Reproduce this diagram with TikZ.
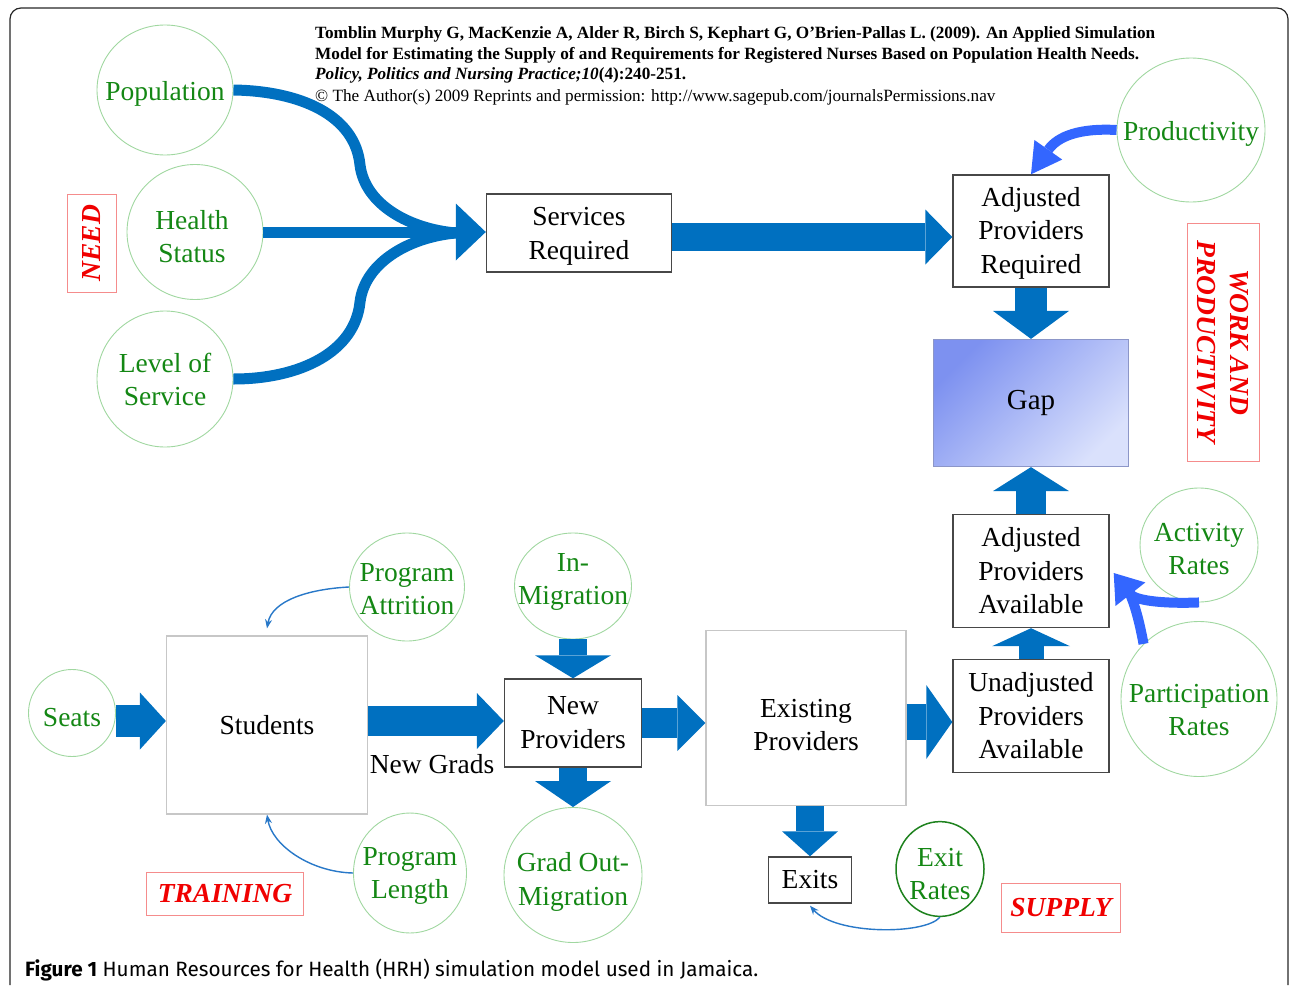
\documentclass[tikz,border=0pt]{standalone}
\usepackage{fontspec}
\setmainfont{Liberation Serif}
\newfontfamily\capfont{Fira Sans}
\usetikzlibrary{shapes.geometric,arrows.meta,calc}
\definecolor{ablue}{RGB}{0,112,192}
\definecolor{bblue}{RGB}{51,102,255}
\definecolor{tblue}{RGB}{40,120,200}
\definecolor{tgreen}{RGB}{20,135,20}
\definecolor{lgreen}{RGB}{160,215,160}
\definecolor{dgreen}{RGB}{30,130,30}
\definecolor{tred}{RGB}{240,0,0}
\definecolor{lred}{RGB}{245,140,140}
\definecolor{gapA}{RGB}{125,145,240}
\definecolor{gapB}{RGB}{218,225,252}
\definecolor{gapBorder}{RGB}{140,150,200}
\newcommand{\zw}[2][6pt]{\makebox[0pt]{\raisebox{-#1}[\height][\depth]{\begin{tabular}{@{}c@{}}#2\end{tabular}}}}
\newcommand{\bigf}{\fontsize{27.5}{33.5}\selectfont}
\newcommand{\citef}{\fontsize{17.2}{20}\selectfont}
\begin{document}
\begin{tikzpicture}[x=1pt,y=-1pt,
 circ/.style={ellipse, draw=lgreen, line width=0.9pt, text=tgreen, font=\bigf, inner sep=0pt},
 box/.style={rectangle, draw=black!72, line width=1.4pt, font=\bigf, align=center, inner sep=0pt},
 lbox/.style={rectangle, draw=black!22, line width=1.2pt, font=\bigf, align=center, inner sep=0pt},
 tag/.style={rectangle, draw=lred, line width=0.8pt, text=tred, font=\bigf\bfseries\itshape, align=center, inner sep=0pt},
 blk/.style n args={3}{draw=ablue, line width=#1, -{Triangle[width=#2,length=#3,line width=0pt]}},
 bigcurve/.style={draw=ablue, line width=11pt},
 bcurve/.style={draw=bblue, line width=10pt},
 tarr/.style={draw=tblue, line width=1.4pt, -{Stealth[length=9pt,width=7pt]}},
]
\useasboundingbox (0,0) rectangle (1290,985);
\draw[black!85, line width=1.2pt, rounded corners=11pt] (10,985) -- (10,8) -- (1288,8) -- (1288,985);

% citation
\node[anchor=base west, font=\citef\bfseries, inner sep=0pt] (c1) at (315,38) {Tomblin Murphy G, MacKenzie A, Alder R, Birch S, Kephart G, O’Brien-Pallas L. (2009). An Applied Simulation};
\node[anchor=base west, font=\citef\bfseries, inner sep=0pt] (c2) at (315,59) {Model for Estimating the Supply of and Requirements for Registered Nurses Based on Population Health Needs.};
\node[anchor=base west, font=\citef\bfseries, inner sep=0pt] (c3) at (315,79) {\textit{Policy, Politics and Nursing Practice;10}(4):240-251.};
\node[anchor=base west, font=\citef, inner sep=0pt] (c4) at (315,101) {© The Author(s) 2009 Reprints and permission: http://www.sagepub.com/journalsPermissions.nav};

% NEED
\node[circ, minimum width=136pt, minimum height=130pt] (pop) at (165,90) {\zw[4pt]{Population}};
\node[circ, minimum width=136pt, minimum height=135pt] (hs) at (195,232) {\hspace*{-6pt}\zw[7.5pt]{Health\\Status}};
\node[circ, minimum width=136pt, minimum height=136pt] (los) at (165,379) {\zw[3.5pt]{Level of\\Service}};
\node[tag, rotate=90, minimum width=98pt, minimum height=49pt] (need) at (92,243) {NEED};
\node[box, minimum width=185pt, minimum height=78pt] (sr) at (579,233) {\zw[3pt]{Services\\Required}};

% work and productivity
\node[box, minimum width=156pt, minimum height=112pt] (apr) at (1031,231) {\zw[2pt]{Adjusted\\Providers\\Required}};
\node[circ, minimum width=148pt, minimum height=144pt] (prod) at (1191,130) {\zw[4pt]{Productivity}};
\node[rectangle, draw=gapBorder, line width=1.2pt, top color=gapA, bottom color=gapB, shading angle=45, minimum width=195pt, minimum height=127pt, font=\fontsize{29}{33}\selectfont] (gap) at (1031,403) {Gap};
\node[tag, rotate=-90, minimum width=238pt, minimum height=72pt] (wap) at (1223,342) {WORK AND\\PRODUCTIVITY};
\node[box, minimum width=156pt, minimum height=113pt] (apa) at (1031,571) {Adjusted\\Providers\\Available};
\node[circ, minimum width=118pt, minimum height=114pt] (act) at (1199,545) {\zw[6.5pt]{Activity\\Rates}};
\node[circ, minimum width=156pt, minimum height=155pt] (part) at (1199,699) {\zw[13.5pt]{Participation\\Rates}};

% supply
\node[box, minimum width=156pt, minimum height=113pt] (upa) at (1031,716) {Unadjusted\\Providers\\Available};
\node[lbox, minimum width=200pt, minimum height=175pt] (ep) at (806,718) {\zw[9.5pt]{Existing\\Providers}};
\node[box, minimum width=137pt, minimum height=88pt] (np) at (573,723) {\zw[2pt]{New\\Providers}};
\node[circ, minimum width=117pt, minimum height=106pt] (inm) at (573,586) {\zw[-4.5pt]{In-\\Migration}};
\node[circ, minimum width=138pt, minimum height=135pt] (gom) at (573,875) {\zw[7pt]{Grad Out-\\Migration}};
\node[box, minimum width=83pt, minimum height=46pt] (exits) at (810,880) {Exits};
\node[circ, draw=dgreen, line width=1.5pt, minimum width=88pt, minimum height=88pt] (er) at (940,869) {\zw[7.5pt]{Exit\\Rates}};
\node[tag, minimum width=119pt, minimum height=49pt] (supply) at (1061,908) {SUPPLY};

% training
\node[lbox, minimum width=201pt, minimum height=178pt] (stu) at (267,725) {Students};
\node[circ, minimum width=87pt, minimum height=87pt] (seats) at (72,713) {\zw[7pt]{Seats}};
\node[circ, minimum width=115pt, minimum height=108pt] (pa) at (407,587) {\zw[4.5pt]{Program\\Attrition}};
\node[circ, minimum width=113pt, minimum height=120pt] (pl) at (410,873) {\zw[2.5pt]{Program\\Length}};
\node[tag, minimum width=157pt, minimum height=43pt] (train) at (225,894) {TRAINING};
\node[font=\bigf, inner sep=0pt] (ng) at (432,764) {New Grads};

% block arrows
\draw[blk={32pt}{57pt}{26pt}] ($(seats.east)+(0,8)$) -- ($(stu.west)+(0,-4)$);
\draw[blk={30pt}{56pt}{27pt}] ($(stu.east)+(0,-4)$) -- ($(np.west)+(0,-2)$);
\draw[blk={28pt}{76pt}{23pt}] (inm.south) -- (np.north);
\draw[blk={28pt}{76pt}{26pt}] (np.south) -- (gom.north);
\draw[blk={30pt}{56pt}{28pt}] (np.east) -- (np.east -| ep.west);
\draw[blk={36pt}{74pt}{26pt}] ($(ep.east)+(0,4)$) -- ($(upa.west)+(0,6)$);
\draw[blk={28pt}{56pt}{25pt}] (exits.north |- ep.south) -- (exits.north);
\draw[blk={25pt}{78pt}{18pt}] (upa.north) -- (apa.south);
\draw[blk={30pt}{76pt}{24pt}] (apa.north) -- (gap.south);
\draw[blk={32pt}{76pt}{28pt}] (apr.south) -- (gap.north);
\draw[blk={28pt}{55pt}{27pt}] ($(sr.east)+(0,4)$) -- ($(apr.west)+(0,6)$);
\draw[blk={11pt}{57pt}{30pt}] (hs.east) -- (hs.east -| sr.west);

% merging curves
\coordinate (hb) at ($(sr.west)+(-30,0)$);
\draw[bigcurve] (pop.east) .. controls (300,91) and (355,115) .. (360,165) .. controls (365,205) and (410,229) .. (hb);
\draw[bigcurve] (los.east) .. controls (300,379) and (355,352) .. (360,302) .. controls (365,262) and (410,237) .. (hb);

% bright blue arrows
\draw[bcurve, -{Triangle[width=34pt,length=30pt,line width=0pt]}] (prod.west) .. controls (1080,128) and (1058,136) .. (apr.north);
\coordinate (atip) at ($(apa.east)+(4,2)$);
\coordinate (pjoin) at (1130,594);
\draw[bcurve] (part.north west) .. controls (1140,625) and (1136,608) .. (pjoin);
\draw[bcurve, -{Triangle[width=38pt,length=27pt,line width=0pt]}] (act.south) .. controls (1160,604) and (1135,600) .. (atip);

% thin arrows
\draw[tarr] (pa.west) .. controls (310,589) and (272,600) .. ([yshift=7pt]stu.north);
\draw[tarr] (pl.west) .. controls (310,872) and (272,845) .. (stu.south);
\draw[tarr] (er.south) .. controls (925,935) and (835,935) .. ([yshift=-2pt]exits.south);

% caption
\node[anchor=base west, font=\capfont\fontsize{20.7}{24}\selectfont, inner sep=0pt] (cap) at (25,976) {\textbf{Figure 1} Human Resources for Health (HRH) simulation model used in Jamaica.};
\end{tikzpicture}
\end{document}
